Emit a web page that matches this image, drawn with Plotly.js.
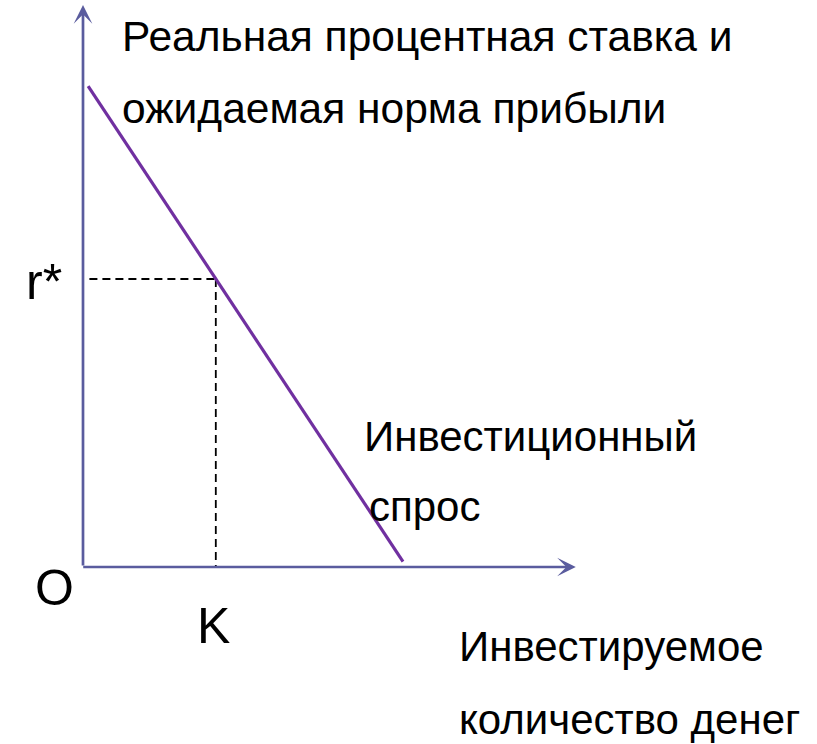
<!DOCTYPE html>
<html>
<head>
<meta charset="utf-8">
<script src="https://cdn.plot.ly/plotly-3.0.1.min.js"></script>
<style>
html,body{margin:0;padding:0;background:#fff;}
#chart{width:817px;height:744px;}
</style>
</head>
<body>
<div id="chart"></div>
<script>
// ---- data (in chart units) ----
const demandX = [0.16, 10.0];      // investment quantity
const demandY = [15.03, 0.17];     // expected rate of return
const kValue = 4.15;               // K
const rStar = 9.0;                 // r*
const axisXEnd = 15.4;
const axisYEnd = 17.56;

const yTitleLines = ["Реальная процентная ставка и", "ожидаемая норма прибыли"];
const xTitleLines = ["Инвестируемое", "количество денег"];
const curveLabelLines = ["Инвестиционный", "спрос"];
const originLabel = "O";
const kLabel = "K";
const rLabel = "r*";

const axisColor = "#5a5c9e";
const lineColor = "#7030a0";
const FONT = "Liberation Sans, Arial, sans-serif";

const traces = [
  { // horizontal dashed r*
    x: [0.2, kValue], y: [rStar, rStar], mode: "lines",
    line: {color: "#000", width: 1.8, dash: "8px,5px"}, hoverinfo: "skip"
  },
  { // vertical dashed K
    x: [kValue, kValue], y: [rStar, 0], mode: "lines",
    line: {color: "#000", width: 1.8, dash: "8px,5px"}, hoverinfo: "skip"
  },
  { // investment demand
    x: demandX, y: demandY, mode: "lines",
    line: {color: lineColor, width: 3.2}, hoverinfo: "skip"
  }
];

function px(x){ return x/817; }
function py(y){ return 1 - y/744; }
function txt(t, x, y, size, anchor){
  return {text: t, xref: "paper", yref: "paper", x: px(x), y: py(y),
    xanchor: anchor || "left", yanchor: "middle", showarrow: false,
    font: {family: FONT, size: size, color: "#000"}};
}

const annotations = [
  // axes with arrowheads
  {x: 0, y: axisYEnd, ax: 0, ay: 0, xref: "x", yref: "y", axref: "x", ayref: "y",
   showarrow: true, arrowhead: 3, arrowsize: 1.15, arrowwidth: 2.7, arrowcolor: axisColor, text: ""},
  {x: axisXEnd, y: 0, ax: -0.04, ay: 0, xref: "x", yref: "y", axref: "x", ayref: "y",
   showarrow: true, arrowhead: 3, arrowsize: 1.15, arrowwidth: 2.7, arrowcolor: axisColor, text: ""},
  txt(yTitleLines[0], 120, 37, 42.5),
  txt(yTitleLines[1], 120, 109, 42.5),
  txt(rLabel, 24, 282, 50),
  txt(curveLabelLines[0], 362, 436, 42),
  txt(curveLabelLines[1], 367, 507, 42),
  txt(originLabel, 33, 588, 50),
  txt(kLabel, 195, 626, 50),
  txt(xTitleLines[0], 457, 646, 42),
  txt(xTitleLines[1], 457, 719, 42)
];

const U = 32; // px per unit
const layout = {
  width: 817, height: 744,
  margin: {l: 0, r: 0, t: 0, b: 0},
  paper_bgcolor: "#fff", plot_bgcolor: "#fff",
  showlegend: false,
  xaxis: {range: [-83/U, (817-83)/U], visible: false, fixedrange: true},
  yaxis: {range: [(567-744)/U, 567/U], visible: false, fixedrange: true},
  annotations: annotations
};

Plotly.newPlot("chart", traces, layout, {staticPlot: true, displayModeBar: false});
</script>
</body>
</html>
